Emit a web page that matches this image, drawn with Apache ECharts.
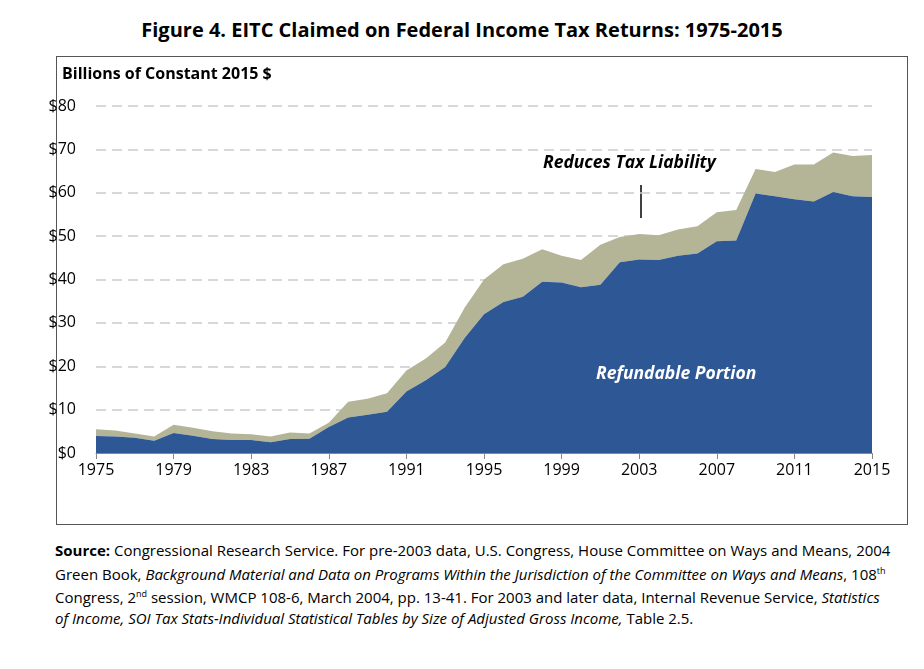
<!DOCTYPE html>
<html>
<head>
<meta charset="utf-8">
<script src="https://cdn.jsdelivr.net/npm/echarts@6/dist/echarts.min.js"></script>
<style>
  body { margin: 0; background: #fff; font-family: "Open Sans", sans-serif; }
  #title { position: absolute; left: 0; top: 16px; width: 924px; text-align: center; font-size: 20px; font-weight: bold; color: #000; }
  #box { position: absolute; left: 56px; top: 56px; width: 850px; height: 467px; border: 1px solid #555; }
  #chart { position: absolute; left: 0; top: 0; width: 924px; height: 540px; }
  #source { position: absolute; left: 55px; top: 540px; width: 840px; font-size: 15px; line-height: 20.5px; color: #000; }
</style>
</head>
<body>
<div id="title">Figure 4. EITC Claimed on Federal Income Tax Returns: 1975-2015</div>
<div id="box"></div>
<div id="chart"></div>
<div id="source"><b>Source:</b> Congressional Research Service. For pre-2003 data, U.S. Congress, House Committee on Ways and Means, 2004 Green Book, <i>Background Material and Data on Programs Within the Jurisdiction of the Committee on Ways and Means</i>, 108<sup style="font-size:9px">th</sup> Congress, 2<sup style="font-size:9px">nd</sup> session, WMCP 108-6, March 2004, pp. 13-41. For 2003 and later data, Internal Revenue Service, <i>Statistics of Income, SOI Tax Stats-Individual Statistical Tables by Size of Adjusted Gross Income,</i> Table 2.5.</div>
<script>
// Data (billions of constant 2015 $)
const years = [];
for (let y = 1975; y <= 2015; y++) years.push(String(y));

const refundable = [3.9, 3.8, 3.5, 2.8, 4.6, 4.0, 3.2, 3.0, 3.0, 2.5,
  3.2, 3.3, 6.0, 8.2, 8.8, 9.5, 14.2, 16.8, 19.8, 26.5,
  32.0, 34.8, 36.0, 39.5, 39.3, 38.2, 38.8, 44.0, 44.6, 44.5,
  45.5, 46.0, 48.8, 49.0, 59.8, 59.2, 58.5, 58.0, 60.2, 59.2, 59.0];

const total = [5.5, 5.2, 4.5, 3.8, 6.5, 5.8, 5.0, 4.5, 4.3, 3.8,
  4.7, 4.5, 7.0, 11.8, 12.5, 13.8, 19.0, 21.8, 25.5, 33.5,
  40.0, 43.5, 44.8, 47.0, 45.5, 44.5, 48.0, 49.8, 50.5, 50.2,
  51.5, 52.3, 55.5, 56.0, 65.5, 64.8, 66.5, 66.5, 69.3, 68.5, 68.7];

const yTicks = [0, 10, 20, 30, 40, 50, 60, 70, 80];

const liability = total.map((t, i) => +(t - refundable[i]).toFixed(2));

const chart = echarts.init(document.getElementById("chart"));
chart.setOption({
  animation: false,
  textStyle: { fontFamily: "Open Sans" },
  grid: { left: 96, right: 52, top: 106, bottom: 87 },
  xAxis: {
    type: "category",
    data: years,
    boundaryGap: false,
    axisLine: { lineStyle: { color: "#888", width: 1 } },
    axisTick: { show: true, interval: 3, length: 6, lineStyle: { color: "#888" } },
    axisLabel: { interval: 3, color: "#000", fontSize: 16, margin: 9 },
  },
  yAxis: {
    type: "value",
    min: 0,
    max: 80,
    interval: 10,
    name: "Billions of Constant 2015 $",
    nameLocation: "end",
    nameGap: 24,
    nameTextStyle: { align: "left", padding: [0, 0, 0, -34], fontSize: 16, fontWeight: "bold", color: "#000" },
    axisLine: { show: false },
    axisTick: { show: false },
    axisLabel: { color: "#000", fontSize: 16, margin: 20, formatter: (v) => yTicks.includes(v) ? "$" + v : "" },
    splitLine: { lineStyle: { color: "#ccc", type: [10, 6], width: 1.5 } },
  },
  series: [
    {
      name: "Refundable Portion",
      type: "line",
      stack: "eitc",
      data: refundable,
      symbol: "none",
      lineStyle: { width: 0 },
      areaStyle: { color: "#2e5795", opacity: 1 },
      z: 3,
    },
    {
      name: "Reduces Tax Liability",
      type: "line",
      stack: "eitc",
      data: liability,
      symbol: "none",
      lineStyle: { width: 0 },
      areaStyle: { color: "#b4b497", opacity: 1 },
      z: 2,
    },
  ],
  graphic: [
    { type: "text", left: 543, top: 154, style: { text: "Reduces Tax Liability", font: "italic bold 17.5px 'Open Sans'", fill: "#000" } },
    { type: "line", shape: { x1: 641, y1: 185, x2: 641, y2: 218 }, style: { stroke: "#000", lineWidth: 1.5 } },
    { type: "text", left: 596, top: 365, z: 10, style: { text: "Refundable Portion", font: "italic bold 17.5px 'Open Sans'", fill: "#fff" } },
  ],
});
</script>
</body>
</html>
